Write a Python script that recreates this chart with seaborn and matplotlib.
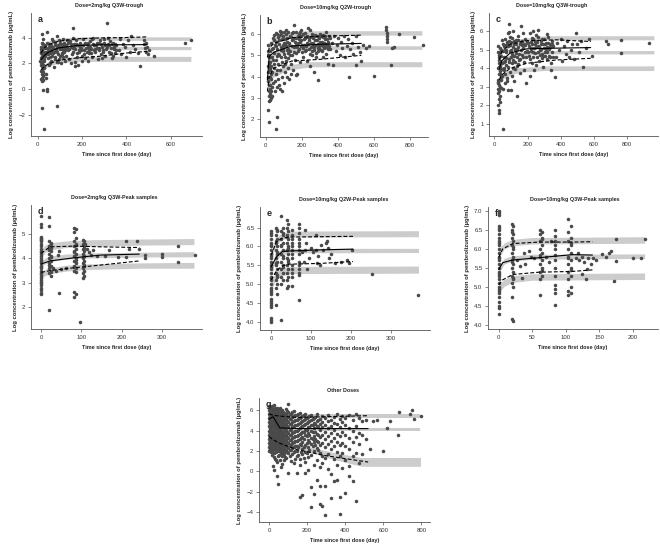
import matplotlib
matplotlib.use("Agg")
import matplotlib.pyplot as plt
import seaborn as sns
from matplotlib.ticker import FormatStrFormatter

# --- dados (tempo em dias, log da concentração) ---
titles = ["Dose=2mg/kg Q3W-trough", "Dose=10mg/kg Q2W-trough", "Dose=10mg/kg Q3W-trough",
          "Dose=2mg/kg Q3W-Peak samples", "Dose=10mg/kg Q2W-Peak samples",
          "Dose=10mg/kg Q3W-Peak samples", "Other Doses"]
letters = ["a", "b", "c", "d", "e", "f", "g"]

# painel a: pontos observados (dia, valor)
a_pts = [
    (20, 4.3), (22, 3.9), (18, 3.6), (25, 3.5), (15, 3.3), (28, 3.2), (21, 3.0), (17, 2.9), (24, 2.8), (30, 2.7),
    (19, 2.6), (26, 2.5), (14, 2.4), (22, 2.3), (28, 2.2), (16, 2.1), (20, 2.0), (25, 1.9), (18, 1.8), (23, 1.7),
    (27, 1.6), (21, 1.5), (15, 1.4), (24, 1.3), (19, 1.2), (22, 1.1), (26, 1.0), (20, 0.9), (17, 0.8), (23, 0.7),
    (21, 0.6), (29, 3.4), (31, 2.9), (13, 2.8), (16, 3.1), (30, 2.3), (27, 1.8), (14, 1.9), (32, 2.6), (12, 2.2),
    (22, -0.05), (40, 0.0), (40, -0.15), (20, -1.48), (30, -3.05), (86, -1.3), (44, 4.4), (38, 0.9), (36, 1.2),
    (42, 3.6), (45, 2.4), (48, 3.1), (50, 1.9), (55, 2.8), (58, 3.4), (60, 2.2), (63, 3.9), (66, 2.6), (70, 3.2),
    (72, 1.7), (75, 2.9), (78, 3.6), (80, 2.5), (83, 3.0), (86, 4.1), (88, 2.1), (90, 3.4), (93, 2.7), (96, 3.8),
    (98, 2.3), (100, 3.1), (103, 3.5), (105, 2.0), (108, 2.8), (110, 3.3), (113, 2.5), (116, 3.9), (118, 2.9), (120, 3.6),
    (123, 2.2), (125, 3.2), (128, 2.6), (130, 3.8), (52, 3.3), (62, 2.9), (68, 3.7), (85, 3.3), (92, 2.1), (102, 2.6),
    (115, 3.0), (127, 3.4), (47, 2.7), (57, 2.0), (77, 2.3),
    (135, 3.0), (140, 2.3), (145, 3.7), (150, 3.3), (155, 2.7), (158, 4.0), (161, 4.75), (163, 3.5), (166, 2.1), (170, 3.1),
    (172, 3.8), (175, 2.5), (178, 3.4), (182, 1.9), (185, 2.9), (190, 3.6), (195, 3.2), (200, 2.6), (205, 3.9), (210, 3.0),
    (215, 2.4), (220, 3.5), (225, 3.3), (230, 2.8), (235, 3.7), (240, 3.1), (245, 2.5), (250, 4.0), (255, 3.4), (260, 2.9),
    (265, 3.6), (270, 2.3), (275, 3.2), (280, 3.8), (285, 2.7), (290, 3.3), (295, 3.0), (300, 3.9), (305, 2.6), (311, 5.1),
    (315, 3.5), (320, 2.9), (325, 3.7), (330, 3.2), (335, 2.4), (340, 3.6), (345, 3.1), (350, 2.8), (355, 3.4), (148, 2.0),
    (168, 1.8), (188, 3.0), (198, 2.2), (228, 2.2), (258, 3.1), (288, 2.4), (318, 4.0), (338, 2.6), (244, 3.9), (274, 3.6),
    (304, 3.4), (160, 3.2), (212, 3.6), (232, 3.0),
    (35, 2.7), (39, 3.2), (43, 2.9), (49, 3.5), (54, 2.5), (59, 3.0), (64, 3.3), (71, 2.8), (76, 3.4), (81, 3.1),
    (87, 2.9), (94, 3.3), (99, 3.6), (106, 3.2), (111, 2.7), (117, 3.4), (124, 3.0), (131, 3.3), (138, 3.6), (143, 3.1),
    (152, 3.5), (157, 2.9), (164, 3.3), (171, 3.5), (177, 2.8), (183, 3.4), (192, 3.3), (197, 3.0), (203, 3.4), (208, 2.7),
    (217, 3.2), (222, 2.9), (227, 3.6), (237, 3.3), (242, 2.8), (248, 3.5), (253, 3.0), (262, 3.4), (268, 3.2), (278, 3.0),
    (283, 3.5), (292, 2.9), (298, 3.6), (308, 3.1), (313, 3.3), (322, 3.4), (328, 2.8), (333, 3.5), (343, 3.3), (348, 3.5),
    (353, 3.0),
    (365, 3.0), (375, 2.7), (385, 3.5), (395, 3.3), (405, 3.8), (415, 2.9), (420, 4.1), (430, 3.4), (440, 3.1), (450, 2.8),
    (461, 1.77), (477, 3.8), (480, 3.5), (483, 3.2), (487, 2.9), (490, 3.6), (493, 3.3), (496, 2.75), (500, 3.0), (522, 2.55),
    (665, 3.58), (690, 3.84), (370, 3.9), (400, 2.5)]

b_pts = [
    (12, 5.5), (15, 5.2), (18, 4.9), (20, 4.6), (22, 4.3), (25, 4.0), (14, 3.8), (17, 3.6), (21, 3.4), (24, 3.2),
    (27, 3.0), (16, 2.85), (19, 5.0), (23, 4.7), (26, 4.4), (29, 4.1), (31, 3.9), (13, 4.5), (35, 5.3), (38, 4.8),
    (33, 3.5), (30, 3.3), (28, 5.6), (11, 4.2), (36, 4.2), (39, 3.7), (20, 3.1), (25, 2.9),
    (14, 4.0), (18, 3.3), (22, 5.2), (26, 3.6), (30, 4.5), (34, 4.9), (37, 3.1), (16, 4.7), (24, 4.9),
    (11, 2.42), (20, 1.88), (61, 2.1), (55, 1.52),
    (42, 5.8), (45, 5.1), (48, 4.4), (50, 3.8), (53, 5.5), (56, 4.8), (58, 4.1), (60, 3.5), (62, 6.0), (65, 5.3),
    (68, 4.6), (70, 3.9), (73, 5.7), (75, 5.0), (78, 4.3), (80, 3.4), (83, 6.1), (85, 5.4), (88, 4.7), (90, 4.0),
    (93, 5.9), (95, 5.2), (98, 4.5), (100, 3.7), (103, 5.6), (105, 4.9), (108, 4.2), (110, 6.2), (113, 5.45), (115, 4.75),
    (118, 4.0), (120, 5.8), (123, 5.1), (125, 4.4), (128, 3.9), (46, 5.95), (57, 5.65), (67, 5.05), (77, 5.95), (87, 6.05),
    (97, 5.35), (107, 5.75), (117, 5.25), (127, 5.55), (44, 4.6), (64, 4.3), (84, 4.9), (104, 4.6), (124, 4.85), (52, 3.3),
    (72, 3.6), (92, 3.3),
    (41, 5.35), (47, 5.7), (54, 6.05), (59, 5.45), (63, 4.95), (69, 5.85), (74, 5.55), (79, 6.15), (82, 5.25), (89, 5.75),
    (94, 5.5), (99, 6.1), (102, 5.05), (109, 5.55), (114, 6.0), (119, 5.65), (122, 5.3), (126, 6.1), (131, 5.6), (134, 5.0),
    (132, 5.9), (136, 5.2), (140, 4.6), (145, 5.7), (150, 6.1), (155, 5.4), (158, 6.45), (160, 4.8), (165, 5.8), (170, 5.1),
    (175, 4.1), (178, 5.6), (182, 6.0), (186, 5.3), (190, 4.7), (195, 5.9), (200, 5.5), (205, 4.9), (210, 5.75), (215, 5.2),
    (220, 6.05), (225, 5.45), (230, 4.75), (235, 5.85), (240, 5.3), (245, 6.2), (250, 5.6), (255, 5.0), (260, 5.8), (265, 4.2),
    (270, 5.4), (275, 5.95), (280, 5.1), (285, 5.7), (290, 3.85), (295, 5.5), (300, 6.0), (305, 5.25), (310, 5.65), (315, 4.9),
    (320, 5.85), (325, 5.35), (330, 5.75), (335, 5.05), (340, 5.55), (345, 4.6), (350, 5.9), (355, 5.3), (142, 4.1), (152, 4.3),
    (170, 4.05), (198, 6.2), (232, 6.3), (248, 4.5), (262, 5.45), (278, 4.9), (292, 5.2), (318, 5.95), (336, 6.1), (148, 5.0),
    (168, 5.5), (188, 5.65), (208, 5.35), (228, 5.6), (258, 5.2), (268, 5.9), (288, 5.35), (308, 5.5), (328, 5.55),
    (138, 5.85), (143, 5.45), (147, 6.05), (153, 5.75), (157, 5.15), (162, 5.65), (167, 6.1), (172, 5.4), (177, 5.9), (181, 5.2),
    (184, 5.75), (189, 6.1), (193, 5.45), (197, 5.7), (203, 5.15), (207, 6.0), (212, 5.5), (218, 5.8), (223, 5.25), (227, 5.9),
    (233, 5.55), (238, 5.7), (243, 5.05), (247, 5.85), (252, 5.4), (257, 6.0), (263, 5.6), (267, 5.25), (272, 5.7), (277, 5.5),
    (282, 5.9), (287, 5.55), (293, 5.8), (297, 5.35), (302, 5.65), (307, 5.9), (312, 5.2), (317, 5.45), (322, 5.6), (327, 5.9),
    (332, 5.4), (338, 5.75), (343, 5.3), (348, 5.65), (353, 5.45), (358, 5.8),
    (365, 5.6), (372, 4.55), (380, 5.9), (388, 5.2), (395, 5.5), (402, 5.8), (410, 5.0), (418, 5.65), (425, 5.35), (432, 5.9),
    (440, 4.9), (448, 5.45), (455, 5.75), (462, 4.0), (470, 5.3), (478, 5.6), (485, 5.05), (498, 4.55), (500, 5.9), (510, 5.4),
    (520, 5.15), (530, 4.75), (540, 5.5), (555, 5.35), (575, 5.45), (600, 4.03),
    (668, 6.35), (669, 6.2), (670, 6.05), (671, 5.9), (672, 5.75), (670, 5.65), (740, 6.0), (703, 5.35), (693, 4.53),
    (712, 5.4), (824, 5.87), (870, 5.48)]

c_pts = [
    (22, 5.2), (25, 4.9), (28, 4.6), (31, 4.3), (34, 4.0), (37, 3.7), (24, 3.4), (27, 3.1), (30, 2.8), (33, 2.5),
    (36, 2.2), (23, 2.0), (26, 4.75), (29, 4.45), (32, 4.15), (35, 3.85), (38, 3.55), (21, 3.25), (39, 2.95), (24, 2.65),
    (28, 2.35), (32, 5.1), (36, 3.0), (26, 1.76), (27, 1.6), (54, 0.71),
    (22, 4.0), (25, 3.2), (29, 3.7), (33, 4.4), (37, 4.9), (40, 3.4), (23, 2.9), (30, 4.1),
    (42, 5.0), (45, 4.3), (48, 3.6), (50, 2.9), (53, 5.3), (56, 4.6), (60, 3.9), (63, 3.2), (66, 5.6), (70, 4.9),
    (73, 4.2), (76, 3.5), (80, 5.9), (84, 5.2), (84, 2.85), (88, 6.4), (88, 4.5), (92, 3.8), (96, 5.7), (100, 5.0),
    (104, 4.3), (108, 3.6), (112, 6.0), (116, 5.35), (120, 4.65), (124, 3.95), (128, 5.55), (132, 4.85), (134, 2.52), (136, 4.15),
    (140, 5.75), (145, 5.15), (150, 4.45), (155, 3.75), (158, 6.3), (160, 5.45), (165, 4.75), (170, 5.9), (175, 5.1), (180, 4.35),
    (185, 5.6), (190, 3.2), (195, 4.95), (46, 5.55), (58, 4.05), (68, 5.25), (78, 3.3), (94, 4.95), (106, 5.65), (118, 3.3),
    (126, 5.05), (144, 4.25), (166, 5.25), (178, 3.9), (100, 2.85), (90, 5.95), (110, 4.0), (64, 4.4), (74, 5.45),
    (43, 4.65), (47, 3.95), (52, 4.95), (57, 5.2), (61, 4.35), (65, 3.7), (69, 5.0), (72, 4.55), (77, 5.35), (81, 4.1),
    (86, 5.5), (91, 4.35), (95, 5.25), (98, 4.6), (102, 5.45), (107, 4.8), (111, 5.15), (115, 4.45), (119, 5.5), (123, 5.0),
    (127, 4.35), (131, 5.35), (135, 4.6), (139, 5.05), (143, 5.55), (147, 4.8), (152, 5.3), (157, 4.5), (162, 5.0), (168, 5.5),
    (172, 4.6), (177, 5.3), (182, 4.9), (187, 5.25), (192, 4.6), (197, 5.45),
    (205, 5.4), (210, 4.7), (215, 5.9), (220, 5.1), (225, 4.3), (230, 5.6), (235, 4.9), (240, 3.9), (245, 5.3), (250, 5.8),
    (255, 4.6), (260, 5.2), (265, 5.7), (270, 4.4), (275, 5.0), (280, 5.5), (285, 4.8), (290, 5.3), (295, 4.1), (300, 5.6),
    (305, 4.9), (310, 5.4), (315, 4.5), (320, 5.15), (325, 5.7), (330, 4.7), (335, 5.3), (340, 4.3), (345, 5.5), (350, 4.9),
    (355, 5.2), (364, 3.53), (232, 6.0), (262, 6.1), (248, 4.2), (288, 4.55), (318, 5.85), (342, 3.9), (212, 3.6), (228, 5.65),
    (202, 4.9), (207, 5.2), (213, 4.5), (218, 5.45), (223, 4.95), (227, 5.3), (233, 4.6), (238, 5.1), (243, 5.5), (247, 4.85),
    (252, 5.15), (257, 5.45), (263, 4.9), (268, 5.15), (273, 4.75), (278, 5.35), (283, 5.05), (288, 5.6), (293, 4.7), (298, 5.1),
    (303, 5.35), (308, 4.65), (313, 5.05), (318, 4.9), (323, 5.4), (328, 5.05), (333, 4.6), (338, 5.15), (348, 5.3), (353, 4.6),
    (370, 4.6), (380, 5.4), (390, 5.0), (400, 5.6), (410, 4.4), (420, 5.2), (430, 4.8), (440, 5.5), (450, 4.6), (460, 5.0),
    (470, 5.3), (480, 4.5), (494, 5.9), (500, 5.35), (510, 4.9), (520, 5.5), (534, 4.1), (550, 5.1), (570, 5.6), (590, 4.7),
    (674, 5.5), (684, 5.35), (764, 5.55), (764, 4.86), (930, 5.37)]

# painéis d, e, f: amostras em colunas (dia nominal, lista de valores)
d_cols = [
    (0, [5.75, 5.4, 5.3, 4.9, 4.85, 4.8, 4.7, 4.6, 4.5, 4.4, 4.3, 4.2, 4.1, 4.0, 3.9, 3.8, 3.7, 3.6, 3.5,
         3.4, 3.3, 3.2, 3.1, 3.0, 2.9, 2.8, 2.7, 2.6, 2.55, 4.75, 4.25, 3.95, 3.65, 3.35, 3.05]),
    (20, [5.7, 5.35, 4.7, 4.5, 4.4, 4.2, 4.0, 3.8, 3.6, 3.4, 1.9, 4.35, 3.75]),
    (24, [4.6, 4.45, 4.3, 4.1, 3.9, 3.7, 3.5, 3.3, 4.65, 4.05, 3.45]),
    (30, [3.6]), (38, [3.5]), (42, [4.15]), (45, [2.58, 4.3]), (50, [3.55]), (62, [3.6]),
    (83, [5.25, 5.1, 4.7, 4.5, 4.3, 4.1, 3.9, 3.7, 3.5, 2.62, 2.42, 4.25, 3.65]),
    (86, [5.2, 4.85, 4.6, 4.4, 4.2, 4.0, 3.8, 3.6, 3.45, 2.55, 4.55, 3.95]),
    (96, [1.4]),
    (103, [4.75, 4.6, 4.4, 4.2, 4.0, 3.8, 3.6, 3.4, 3.2, 4.05]),
    (107, [4.7, 4.5, 4.3, 4.1, 3.9, 3.7, 3.5, 3.3, 4.45, 3.75]),
    (110, [4.6]), (115, [4.4]), (120, [4.25]), (125, [4.15]), (130, [4.35]), (140, [4.1]), (160, [4.1]),
    (170, [4.35]), (190, [4.05]), (210, [4.05]), (212, [4.7]), (218, [4.4]), (238, [4.71]), (244, [4.37]),
    (258, [4.14, 4.03]), (300, [4.2, 4.07]), (340, [4.52, 3.87]), (383, [4.14])]

e_cols = [
    (0, [6.4, 6.3, 6.2, 6.1, 6.0, 5.9, 5.8, 5.7, 5.6, 5.5, 5.4, 5.3, 5.2, 5.1, 5.0, 4.9, 4.8, 4.75, 4.6,
         4.55, 4.5, 4.45, 4.4, 4.1, 4.05, 4.0, 6.35, 6.05, 5.75, 5.45, 5.15, 4.85]),
    (11, [6.5, 6.3, 6.1, 5.9, 5.7, 5.5, 5.3, 5.1, 4.9, 4.45, 6.15, 5.55]),
    (14, [6.4, 6.2, 6.0, 5.8, 5.6, 5.4, 5.2, 5.0, 4.75, 6.45, 5.85, 5.25]),
    (25, [6.8, 6.4, 6.2, 6.0, 5.8, 5.6, 5.4, 5.2, 5.0, 4.05, 6.05]),
    (29, [6.5, 6.3, 6.1, 5.9, 5.7, 5.5, 5.3, 5.1, 6.35, 5.75, 5.45]),
    (39, [6.7, 6.5, 6.3, 6.1, 5.9, 5.7, 5.5, 5.3, 5.1, 4.9, 6.25]),
    (43, [6.6, 6.4, 6.2, 6.0, 5.8, 5.6, 5.4, 5.2, 4.95, 5.95, 5.65]),
    (53, [6.45, 6.3, 6.2, 6.1, 6.0, 5.9, 5.8, 5.7, 5.5, 5.4, 5.3, 5.2, 4.95]),
    (70, [6.6, 6.5, 6.35, 6.2, 6.1, 6.0, 5.9, 5.8, 5.6, 5.5, 5.4, 5.3, 5.25, 4.57]),
    (78, [5.85]), (82, [5.6]), (84, [6.45]), (85, [5.9]), (88, [6.1]), (90, [5.4]), (95, [5.7]), (100, [5.95]),
    (105, [5.85]), (112, [6.3, 5.9]), (114, [5.55]), (118, [5.75]), (122, [5.5]), (125, [6.05]), (130, [5.9]),
    (138, [6.1]), (140, [6.15]), (142, [5.95]), (145, [5.7]), (150, [5.8]), (160, [5.55]), (175, [5.6]),
    (190, [5.65]), (196, [5.55]), (202, [5.9]), (252, [5.28]), (369, [4.71])]

f_cols = [
    (0, [7.0, 6.9, 6.6, 6.5, 6.4, 6.3, 6.2, 6.1, 6.0, 5.9, 5.8, 5.7, 5.6, 5.5, 5.4, 5.3, 5.2, 5.1, 5.0,
         4.9, 4.85, 4.6, 4.5, 4.45, 4.3, 6.95, 6.55, 6.15, 5.75, 5.35, 4.95, 4.75]),
    (20, [6.65, 6.5, 6.3, 6.1, 5.9, 5.7, 5.5, 5.3, 5.1, 4.75, 4.15, 6.45, 5.65]),
    (22, [6.6, 6.4, 6.2, 6.0, 5.8, 5.6, 5.4, 5.2, 5.0, 4.12, 6.05, 5.25]),
    (28, [5.7]), (32, [5.55]), (35, [5.25]), (38, [5.9]), (40, [5.6]), (45, [5.95]), (48, [5.8]), (52, [5.75]),
    (62, [6.5, 6.4, 6.2, 6.0, 5.8, 5.6, 5.4, 5.2, 4.78, 5.85]),
    (65, [6.45, 6.3, 6.1, 5.9, 5.7, 5.5, 5.3, 6.25, 5.45]),
    (70, [5.8]), (75, [5.65]), (78, [6.2]),
    (84, [6.5, 6.35, 6.2, 6.1, 6.0, 5.85, 5.7, 5.5, 5.3, 5.05, 4.95, 4.85, 4.52]),
    (104, [6.78, 6.45, 6.2, 6.0, 5.8, 5.6, 5.4, 5.2, 4.9, 4.8, 5.75]),
    (108, [6.6, 6.3, 6.1, 5.9, 5.7, 5.5, 5.3, 5.0, 4.85, 6.15, 5.45]),
    (115, [5.75]), (118, [5.9]), (120, [5.7]), (124, [5.8]), (125, [5.35]), (128, [5.65]), (130, [5.2]),
    (132, [5.48]), (133, [5.75]), (138, [5.6]), (141, [5.75]), (146, [5.7]), (155, [5.88]), (160, [5.8]),
    (165, [5.9]), (168, [5.95]), (173, [5.15]), (175, [5.68, 6.27]), (200, [5.75]), (212, [5.75]), (218, [6.27])]

# painel g: colunas aproximadas da nuvem de pontos
g_cols = [
    (0, [6.4, 6.0, 5.6, 5.2, 4.8, 4.4, 4.0, 3.6, 3.2, 2.8, 2.4, 2.0]),
    (3, [6.2, 5.8, 5.4, 5.0, 4.6, 4.2, 3.8, 3.4, 3.0, 2.6, 2.2]),
    (6, [6.2, 5.8, 5.4, 5.0, 4.6, 4.2, 3.8, 3.4, 3.0, 2.6, 2.2]),
    (9, [6.0, 5.6, 5.2, 4.8, 4.4, 4.0, 3.6, 3.2, 2.8, 2.4, 2.0]),
    (12, [6.3, 5.9, 5.5, 5.1, 4.7, 4.3, 3.9, 3.5, 3.1, 2.7, 2.3, 1.9]),
    (16, [6.4, 5.6, 5.2, 4.8, 4.4, 4.0, 3.6, 3.2, 2.8, 2.4, 1.6]),
    (20, [6.1, 5.7, 5.3, 4.9, 4.5, 4.1, 3.7, 3.3, 2.9, 2.5, 2.1, 0.5]),
    (24, [5.9, 5.5, 5.1, 4.7, 4.3, 3.9, 3.5, 3.1, 2.7, 2.3, 1.8]),
    (28, [6.5, 6.0, 5.6, 5.2, 4.8, 4.4, 4.0, 3.6, 3.2, 2.8, 2.4, 1.4, 0.15]),
    (32, [6.2, 5.8, 5.4, 5.0, 4.6, 4.2, 3.8, 3.4, 3.0, 2.6, 2.2, 1.2]),
    (36, [5.9, 5.5, 5.1, 4.7, 4.3, 3.9, 3.5, 3.1, 2.7, 2.3, 1.9, 1.1]),
    (40, [6.0, 5.6, 5.2, 4.8, 4.4, 4.0, 3.6, 3.2, 2.8, 2.4, 2.0, -0.48]),
    (44, [6.2, 5.8, 5.4, 5.0, 4.6, 4.2, 3.8, 3.4, 3.0, 2.6, 2.2, 0.9]),
    (48, [5.8, 5.4, 5.0, 4.6, 4.2, 3.8, 3.4, 3.0, 2.6, 2.2, 1.5, -1.3]),
    (52, [6.0, 5.6, 5.2, 4.8, 4.4, 4.0, 3.6, 3.2, 2.8, 2.4, 2.0, 1.6]),
    (56, [6.2, 5.8, 5.4, 5.0, 4.6, 4.2, 3.8, 3.4, 3.0, 2.6, 1.1]),
    (60, [5.8, 5.4, 5.0, 4.6, 4.2, 3.8, 3.4, 3.0, 2.6, 2.2, 1.8, 0.4]),
    (65, [5.6, 5.2, 4.8, 4.4, 4.0, 3.6, 3.2, 2.8, 2.4, 2.0]),
    (70, [6.0, 5.5, 5.0, 4.5, 4.0, 3.5, 3.0, 2.5, 2.0, 1.5, 0.7]),
    (75, [5.8, 5.3, 4.8, 4.3, 3.8, 3.3, 2.8, 2.3, 1.8]),
    (80, [5.7, 5.2, 4.7, 4.2, 3.7, 3.2, 2.7, 2.2, 1.7, 1.1]),
    (85, [5.5, 5.0, 4.5, 4.0, 3.5, 3.0, 2.5, 2.0, 1.4]),
    (90, [6.1, 5.6, 5.1, 4.6, 4.1, 3.6, 3.1, 2.6, 2.1, 1.3]),
    (95, [5.9, 5.4, 4.9, 4.4, 3.9, 3.4, 2.9, 2.4, 1.9]),
    (100, [5.8, 5.3, 4.8, 4.3, 3.8, 3.3, 2.8, 2.3, 1.8, 6.6, -0.14]),
    (108, [5.6, 5.1, 4.6, 4.1, 3.6, 3.1, 2.6, 2.1, 1.5]),
    (115, [5.6, 5.1, 4.6, 4.1, 3.6, 3.1, 2.6, 2.1, 1.0]),
    (122, [5.8, 5.3, 4.8, 4.3, 3.8, 3.3, 2.8, 2.3, 1.7]),
    (130, [5.9, 5.4, 4.9, 4.4, 3.9, 3.4, 2.9, 2.4, 1.9, 0.8]),
    (138, [5.5, 5.0, 4.5, 4.0, 3.5, 3.0, 2.5, 2.0, 1.2]),
    (145, [5.5, 5.0, 4.5, 4.0, 3.5, 3.0, 2.5, 2.0, 1.5, -0.2]),
    (152, [5.6, 5.1, 4.6, 4.1, 3.6, 3.1, 2.4, 1.6]),
    (160, [5.7, 5.2, 4.7, 4.2, 3.7, 3.2, 2.7, 1.2, 0.6, -2.5]),
    (168, [5.3, 4.8, 4.3, 3.8, 3.3, 2.6, 1.9]),
    (175, [5.4, 4.9, 4.4, 3.9, 3.4, 2.9, 2.2, 1.7, -2.3]),
    (183, [5.5, 5.0, 4.5, 3.9, 3.2, 2.4, 1.3]),
    (190, [5.6, 5.1, 4.6, 4.1, 3.6, 2.6, 1.9, 0.9, -0.2]),
    (198, [5.2, 4.7, 4.1, 3.5, 2.8, 1.8]),
    (205, [5.3, 4.8, 4.3, 3.8, 3.1, 2.4, 1.4, 0.1]),
    (212, [5.4, 4.9, 4.3, 3.6, 2.9, 2.1]),
    (220, [5.5, 5.0, 4.5, 4.0, 3.3, 2.7, 1.6, -1.6, -3.5]),
    (228, [5.1, 4.5, 3.9, 3.2, 2.5]),
    (235, [5.2, 4.7, 4.2, 3.5, 2.9, 2.0, 0.6, -2.2]),
    (243, [5.3, 4.6, 3.9, 3.2, 2.6]),
    (250, [5.6, 4.9, 4.4, 3.7, 3.0, 2.3, 1.1, -0.9]),
    (258, [5.0, 4.3, 3.6, 2.9, 2.1]),
    (265, [5.1, 4.6, 4.1, 3.4, 2.6, 1.8, 0.4, -1.5, -3.2]),
    (280, [5.4, 4.8, 4.3, 3.6, 2.8, 1.5, 0.8, -3.4]),
    (295, [5.2, 4.5, 3.9, 3.2, 2.4, 1.3, -1.5, -4.3]),
    (310, [5.5, 4.9, 4.2, 3.5, 2.7, 1.7, 0.2]),
    (325, [5.0, 4.4, 3.8, 3.0, 2.2, -0.3, -2.6]),
    (340, [5.3, 4.7, 4.1, 3.3, 2.5, 1.2, -1.0]),
    (355, [5.6, 4.6, 3.7, 2.9, 1.9, 0.6, -0.9]),
    (370, [5.1, 4.3, 3.5, 2.6, 1.5, -2.5, -4.2]),
    (385, [5.4, 4.8, 3.9, 2.8, 1.8, 0.3]),
    (400, [5.2, 4.5, 3.6, 2.5, 1.1, -2.1]),
    (420, [5.5, 4.2, 3.3, 2.2, 0.5, -0.5]),
    (440, [5.0, 4.0, 2.9, 1.5, -1.0]),
    (455, [5.6, 4.4, 3.4, 1.8, -2.9]),
    (470, [5.2, 3.8, 2.7, 0.8]),
    (490, [4.9, 3.6, 1.7]),
    (510, [5.0, 3.2]), (530, [2.2]), (547, [4.95]), (565, [5.02]), (600, [2.03]), (617, [4.26]),
    (635, [4.95]), (675, [3.57]), (684, [5.8]), (740, [5.64]), (749, [5.98]), (761, [5.12]), (796, [5.46])]

# linhas observadas (mediana e percentis 5/95)
a_lt = [15, 30, 48, 93, 176, 281, 400, 492]
a_med = [2.29, 2.6, 2.86, 3.19, 3.38, 3.43, 3.44, 3.45]
a_p95 = [2.8, 3.2, 3.45, 3.71, 3.9, 3.97, 4.0, 4.05]
a_p05 = [1.5, 1.75, 1.95, 2.23, 2.42, 2.55, 2.8, 2.93]

b_lt = [9, 19, 45, 144, 302, 530]
b_med = [3.84, 4.94, 5.15, 5.44, 5.52, 5.56]
b_p95 = [4.9, 5.35, 5.56, 5.83, 5.9, 5.95]
b_p05 = [3.3, 4.0, 4.4, 4.73, 4.81, 5.0]

c_lt = [30, 44, 94, 194, 374, 580]
c_med = [3.96, 4.41, 4.83, 5.06, 5.1, 5.13]
c_p95 = [4.47, 4.9, 5.32, 5.5, 5.55, 5.46]
c_p05 = [3.38, 3.65, 4.0, 4.28, 4.46, 4.55]

d_lt = [0, 22, 83, 148, 244]
d_med = [3.77, 3.9, 4.03, 4.14, 4.18]
d_p95 = [4.21, 4.48, 4.51, 4.48, 4.45]
d_p05 = [3.43, 3.5, 3.62, 3.73, 3.9]

e_lt = [0, 13, 27, 45, 123, 205]
e_med = [5.46, 5.72, 5.86, 5.88, 5.91, 5.93]
e_p95 = [5.77, 6.12, 6.22, 6.25, 6.26, 6.27]
e_p05 = [5.11, 5.35, 5.48, 5.53, 5.55, 5.6]

f_lt = [0, 6, 21, 60, 110, 140]
f_med = [5.46, 5.64, 5.71, 5.77, 5.85, 5.84]
f_p95 = [5.78, 6.0, 6.14, 6.18, 6.18, 6.19]
f_p05 = [5.06, 5.19, 5.33, 5.39, 5.41, 5.45]

g_lt = [0, 21, 56, 144, 302, 520]
g_med = [5.12, 5.36, 4.26, 4.2, 4.19, 4.19]
g_p95 = [5.64, 5.5, 5.42, 5.29, 5.36, 5.46]
g_p05 = [3.4, 3.1, 2.75, 2.13, 1.51, 0.9]

# faixas simuladas (IC dos percentis): tempos, (inferior, superior)
a_bt = [15, 50, 100, 200, 690]
a_b95 = ([3.0, 3.5, 3.7, 3.78, 3.78], [3.3, 3.75, 3.95, 4.05, 4.05])
a_b50 = ([2.2, 2.75, 3.0, 3.06, 3.06], [2.5, 3.0, 3.25, 3.31, 3.31])
a_b05 = ([1.3, 1.8, 2.05, 2.15, 2.15], [1.7, 2.2, 2.45, 2.54, 2.54])

b_bt = [10, 40, 120, 250, 866]
b_b95 = ([5.0, 5.6, 5.85, 5.95, 5.95], [5.3, 5.85, 6.1, 6.16, 6.16])
b_b50 = ([4.3, 4.95, 5.2, 5.28, 5.28], [4.6, 5.15, 5.4, 5.45, 5.45])
b_b05 = ([3.3, 3.95, 4.3, 4.46, 4.46], [3.7, 4.25, 4.55, 4.7, 4.7])

c_bt = [22, 60, 150, 300, 960]
c_b95 = ([4.4, 5.0, 5.4, 5.55, 5.55], [4.8, 5.3, 5.6, 5.77, 5.77])
c_b50 = ([3.8, 4.4, 4.7, 4.79, 4.79], [4.1, 4.65, 4.88, 4.97, 4.97])
c_b05 = ([3.1, 3.5, 3.8, 3.89, 3.89], [3.5, 3.85, 4.05, 4.14, 4.14])

d_bt = [0, 10, 25, 60, 120, 250, 380]
d_b95 = ([4.0, 4.25, 4.35, 4.45, 4.5, 4.55, 4.57], [4.35, 4.55, 4.65, 4.72, 4.77, 4.8, 4.82])
d_b50 = ([3.65, 3.78, 3.88, 3.97, 4.02, 4.06, 4.07], [3.9, 4.02, 4.1, 4.18, 4.23, 4.26, 4.28])
d_b05 = ([3.15, 3.3, 3.38, 3.48, 3.55, 3.6, 3.6], [3.45, 3.55, 3.62, 3.72, 3.78, 3.82, 3.84])

e_bt = [0, 10, 25, 50, 369]
e_b95 = ([5.6, 6.0, 6.18, 6.25, 6.26], [5.85, 6.2, 6.35, 6.41, 6.42])
e_b50 = ([5.2, 5.6, 5.78, 5.83, 5.84], [5.45, 5.8, 5.92, 5.95, 5.95])
e_b05 = ([4.8, 5.1, 5.22, 5.28, 5.29], [5.05, 5.3, 5.42, 5.47, 5.48])

f_bt = [0, 8, 20, 50, 218]
f_b95 = ([5.75, 6.0, 6.08, 6.13, 6.15], [6.0, 6.15, 6.25, 6.3, 6.32])
f_b50 = ([5.35, 5.6, 5.68, 5.73, 5.75], [5.55, 5.75, 5.82, 5.86, 5.87])
f_b05 = ([4.85, 5.02, 5.12, 5.18, 5.2], [5.05, 5.2, 5.3, 5.35, 5.37])

g_bt = [0, 100, 214, 350, 486, 795]
g_b95 = ([5.22, 5.22, 5.22, 5.22, 5.22, 5.22], [5.6, 5.6, 5.6, 5.6, 5.6, 5.6])
g_b50 = ([3.92, 3.92, 3.92, 3.92, 3.92, 3.92], [4.26, 4.26, 4.26, 4.26, 4.26, 4.26])
g_b05 = ([2.9, 2.4, 1.86, 1.1, 0.48, 0.48], [3.4, 2.9, 2.37, 1.8, 1.35, 1.35])

# limites e ticks dos eixos
xlims = [(-30, 740), (-32, 900), (-32, 985), (-25, 400), (-28, 398), (-16, 238), (-53, 845)]
ylims = [(-3.63, 5.9), (1.15, 6.9), (0.35, 7.0), (1.1, 6.2), (3.78, 7.05), (3.9, 7.1), (-5.0, 7.2)]
xticks = [[0, 200, 400, 600], [0, 200, 400, 600, 800], [0, 200, 400, 600, 800],
          [0, 100, 200, 300], [0, 100, 200, 300], [0, 50, 100, 150, 200], [0, 200, 400, 600, 800]]
yticks = [[-2, 0, 2, 4], [2, 3, 4, 5, 6], [1, 2, 3, 4, 5, 6], [2, 3, 4, 5],
          [4.0, 4.5, 5.0, 5.5, 6.0, 6.5], [4.0, 4.5, 5.0, 5.5, 6.0, 6.5, 7.0], [-4, -2, 0, 2, 4, 6]]


def cols_to_xy(cols):
    xs, ys = [], []
    for x, vals in cols:
        for v in vals:
            xs.append(x)
            ys.append(v)
    return xs, ys


def pts_to_xy(pts):
    return [p[0] for p in pts], [p[1] for p in pts]


points = [pts_to_xy(a_pts), pts_to_xy(b_pts), pts_to_xy(c_pts),
          cols_to_xy(d_cols), cols_to_xy(e_cols), cols_to_xy(f_cols), cols_to_xy(g_cols)]
lines = [(a_lt, a_med, a_p95, a_p05), (b_lt, b_med, b_p95, b_p05), (c_lt, c_med, c_p95, c_p05),
         (d_lt, d_med, d_p95, d_p05), (e_lt, e_med, e_p95, e_p05), (f_lt, f_med, f_p95, f_p05),
         (g_lt, g_med, g_p95, g_p05)]
bands = [(a_bt, a_b95, a_b50, a_b05), (b_bt, b_b95, b_b50, b_b05), (c_bt, c_b95, c_b50, c_b05),
         (d_bt, d_b95, d_b50, d_b05), (e_bt, e_b95, e_b50, e_b05), (f_bt, f_b95, f_b50, f_b05),
         (g_bt, g_b95, g_b50, g_b05)]

# --- posição dos painéis (pixels: esquerda, topo, direita, base) ---
W, H = 660, 550
boxes = [(31, 13, 202, 136), (260, 15, 428, 137), (489, 13, 658, 136),
         (31, 205, 202, 329), (260, 207, 430, 330), (488, 207, 658, 329),
         (259, 398, 430, 522)]
title_x = [0.46, 0.45, 0.37, 0.485, 0.49, 0.51, 0.49]

sns.set_style("ticks")
plt.rcParams['font.family'] = ['Liberation Sans', 'DejaVu Sans']
plt.rcParams['axes.edgecolor'] = '#555555'
plt.rcParams['axes.linewidth'] = 0.6
plt.rcParams['xtick.color'] = '#555555'
plt.rcParams['ytick.color'] = '#555555'
plt.rcParams['xtick.labelcolor'] = '#333333'
plt.rcParams['ytick.labelcolor'] = '#333333'

fig = plt.figure(figsize=(W / 100, H / 100), dpi=100)

for i in range(7):
    l, t, r, b = boxes[i]
    ax = fig.add_axes([l / W, 1 - b / H, (r - l) / W, (b - t) / H])

    bt, b95, b50, b05 = bands[i]
    for lo, hi in (b95, b50, b05):
        ax.fill_between(bt, lo, hi, color='#cccccc', linewidth=0, zorder=1)

    xs, ys = points[i]
    sns.scatterplot(x=xs, y=ys, ax=ax, color='#4a4a4a', s=6.5, linewidth=0, zorder=2)

    lt, med, p95, p05 = lines[i]
    sns.lineplot(x=lt, y=med, ax=ax, color='black', linewidth=0.8, estimator=None, sort=False, zorder=3)
    for pv in (p95, p05):
        sns.lineplot(x=lt, y=pv, ax=ax, color='black', linewidth=0.8, estimator=None, sort=False,
                     linestyle=(0, (3.5, 1.8)), zorder=3)

    ax.set_xlim(*xlims[i])
    ax.set_ylim(*ylims[i])
    ax.set_xticks(xticks[i])
    ax.set_yticks(yticks[i])
    if i in (4, 5):
        ax.yaxis.set_major_formatter(FormatStrFormatter('%.1f'))
    ax.tick_params(labelsize=4.3, length=2, width=0.5, pad=2)
    sns.despine(ax=ax)

    ax.set_title(titles[i], fontsize=3.9, fontweight='bold', x=title_x[i], pad=4)
    ax.set_xlabel('Time since first dose (day)', fontsize=4.0, fontweight='bold', labelpad=4)
    ax.set_ylabel('Log concentration of pembrolizumab (µg/mL)', fontsize=4.2, fontweight='bold', labelpad=3)
    ax.text(0.04, 0.98, letters[i], transform=ax.transAxes, fontsize=6.5, fontweight='bold',
            va='top', ha='left')

fig.savefig('out.png', dpi=100)
